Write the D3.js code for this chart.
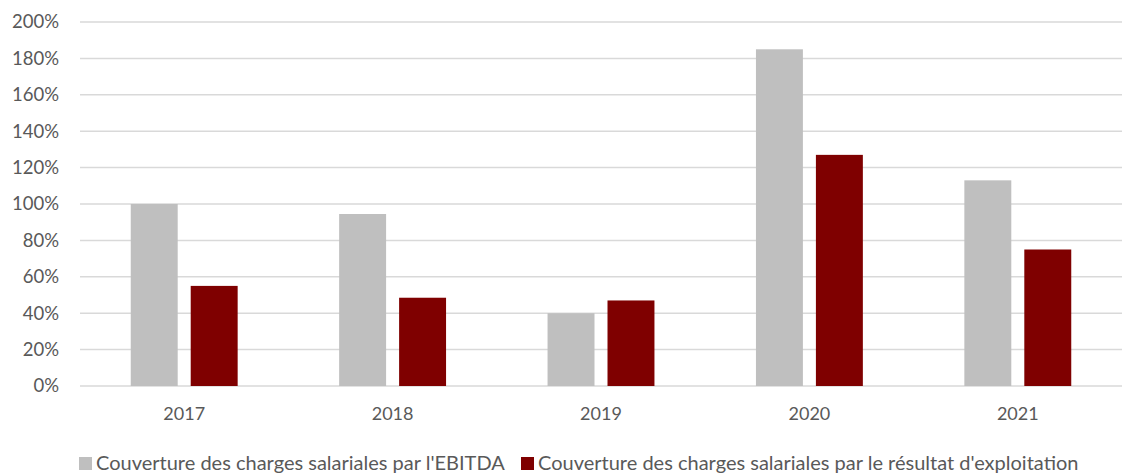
<!DOCTYPE html>
<html>
<head>
<meta charset="utf-8">
<script src="https://cdn.jsdelivr.net/npm/d3@7"></script>
<style>
  body { margin: 0; background: #fff; }
  text { font-family: Lato, "Open Sans", sans-serif; fill: #595959; }
</style>
</head>
<body>
<svg id="chart" width="1131" height="475"></svg>
<script>
var width = 1131;
var height = 475;

var years = ["2017", "2018", "2019", "2020", "2021"];
var ebitda = [1.00, 0.945, 0.40, 1.85, 1.13];
var resultat = [0.55, 0.485, 0.47, 1.27, 0.75];
var seriesNames = ["Couverture des charges salariales par l'EBITDA",
                   "Couverture des charges salariales par le résultat d'exploitation"];
var colors = ["#bfbfbf", "#7f0000"];
var yTicks = [0, 0.2, 0.4, 0.6, 0.8, 1.0, 1.2, 1.4, 1.6, 1.8, 2.0];

var plotLeft = 80, plotRight = 1122, plotTop = 22, plotBottom = 386;

var svg = d3.select("#chart");

var x0 = d3.scaleBand().domain(years).range([plotLeft, plotRight])
  .paddingInner(0.487).paddingOuter(0.2435);
var x1 = d3.scaleBand().domain([0, 1]).range([0, x0.bandwidth()])
  .paddingInner(0.217).paddingOuter(0);
var y = d3.scaleLinear().domain([0, 2]).range([plotBottom, plotTop]);

// gridlines
svg.append("g").selectAll("line").data(yTicks).enter().append("line")
  .attr("x1", plotLeft).attr("x2", plotRight)
  .attr("y1", function(d) { return y(d); })
  .attr("y2", function(d) { return y(d); })
  .attr("stroke", "#d9d9d9").attr("stroke-width", 1.5);

// y labels
svg.append("g").selectAll("text").data(yTicks).enter().append("text")
  .attr("x", 59)
  .attr("y", function(d) { return y(d); })
  .attr("dy", "0.35em")
  .attr("text-anchor", "end")
  .style("font-size", "18.5px")
  .text(function(d) { return d3.format(".0%")(d); });

// bars
var rows = years.map(function(yr, i) { return { year: yr, vals: [ebitda[i], resultat[i]] }; });
var groups = svg.append("g").selectAll("g").data(rows).enter().append("g")
  .attr("transform", function(d) { return "translate(" + x0(d.year) + ",0)"; });
groups.selectAll("rect").data(function(d) { return d.vals; }).enter().append("rect")
  .attr("x", function(d, i) { return x1(i); })
  .attr("y", function(d) { return y(d); })
  .attr("width", x1.bandwidth())
  .attr("height", function(d) { return y(0) - y(d); })
  .attr("fill", function(d, i) { return colors[i]; });

// x labels
svg.append("g").selectAll("text").data(years).enter().append("text")
  .attr("x", function(d) { return x0(d) + x0.bandwidth() / 2; })
  .attr("y", 420)
  .attr("text-anchor", "middle")
  .style("font-size", "18px")
  .text(function(d) { return d; });

// legend
var legendX = [79, 521];
var lg = svg.append("g").selectAll("g").data(seriesNames).enter().append("g")
  .attr("transform", function(d, i) { return "translate(" + legendX[i] + ",0)"; });
lg.append("rect").attr("x", 0).attr("y", 457).attr("width", 13).attr("height", 13)
  .attr("fill", function(d, i) { return colors[i]; });
lg.append("text").attr("x", 17).attr("y", 470)
  .style("font-size", "20px")
  .text(function(d) { return d; });
</script>
</body>
</html>
